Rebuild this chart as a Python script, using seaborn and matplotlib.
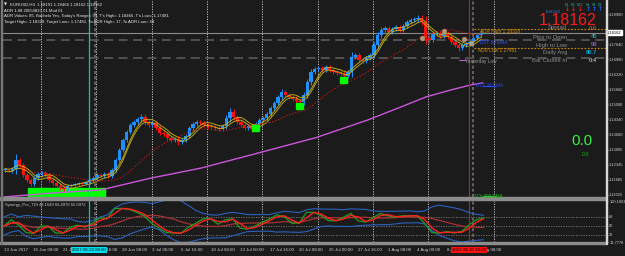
import numpy as np
import pandas as pd
import matplotlib
matplotlib.use("Agg")
import matplotlib.pyplot as plt
from matplotlib.patches import Rectangle
import seaborn as sns

sns.set_style("dark")
plt.rcParams['font.family'] = ['Liberation Sans', 'DejaVu Sans']

# ---------------- data ----------------
# EURUSD H4 closes, one value per two H4 bars (starting 13 Jun 2017 16:00)
closes = [
    1.1212, 1.1207, 1.1216, 1.1256, 1.1234, 1.1190, 1.1167, 1.1150, 1.1176, 1.1194,
    1.1198, 1.1190, 1.1167, 1.1154, 1.1141, 1.1132, 1.1128, 1.1141, 1.1146, 1.1150,
    1.1154, 1.1150, 1.1159, 1.1167, 1.1176, 1.1190, 1.1185, 1.1194, 1.1185, 1.1212,
    1.1256, 1.1300, 1.1344, 1.1379, 1.1410, 1.1423, 1.1436, 1.1445, 1.1423, 1.1410,
    1.1419, 1.1396, 1.1374, 1.1370, 1.1352, 1.1344, 1.1348, 1.1335, 1.1344, 1.1361,
    1.1396, 1.1414, 1.1423, 1.1419, 1.1410, 1.1405, 1.1401, 1.1396, 1.1392, 1.1405,
    1.1440, 1.1467, 1.1445, 1.1423, 1.1410, 1.1396, 1.1405, 1.1392, 1.1414, 1.1432,
    1.1440, 1.1458, 1.1484, 1.1506, 1.1533, 1.1555, 1.1542, 1.1533, 1.1524, 1.1516,
    1.1511, 1.1542, 1.1599, 1.1643, 1.1656, 1.1660, 1.1652, 1.1665, 1.1652, 1.1643,
    1.1638, 1.1634, 1.1625, 1.1643, 1.1709, 1.1718, 1.1696, 1.1691, 1.1704, 1.1718,
    1.1762, 1.1806, 1.1828, 1.1836, 1.1819, 1.1832, 1.1841, 1.1828, 1.1845, 1.1863,
    1.1872, 1.1876, 1.1880, 1.1863, 1.1792, 1.1784, 1.1810, 1.1814, 1.1801, 1.1814,
    1.1797, 1.1775, 1.1761, 1.1748, 1.1761, 1.1766, 1.1775, 1.1792, 1.1806, 1.1816,
]
first_open = 1.1210
# wick length in pips for each candle
wicks = [
    8, 6, 8, 24, 10, 8, 8, 10, 8, 8,
    8, 8, 8, 8, 8, 8, 12, 8, 6, 6,
    6, 6, 6, 8, 8, 10, 8, 8, 8, 10,
    10, 10, 10, 10, 10, 10, 10, 14, 12, 10,
    10, 10, 10, 10, 10, 10, 10, 14, 10, 10,
    10, 10, 8, 8, 8, 8, 8, 8, 8, 10,
    12, 16, 12, 10, 10, 10, 10, 14, 10, 10,
    10, 10, 10, 10, 10, 14, 10, 10, 10, 12,
    10, 12, 12, 12, 10, 10, 10, 10, 10, 10,
    10, 10, 16, 10, 20, 10, 10, 10, 10, 10,
    12, 12, 12, 10, 10, 10, 10, 10, 10, 10,
    10, 10, 14, 12, 26, 12, 10, 10, 10, 10,
    10, 10, 10, 14, 10, 10, 10, 10, 10, 12,
]

# slow EMA (magenta)
ema_bars = [0, 25.5, 52.6, 79.7, 106.8, 133.9, 169.1, 197.3, 215.2, 228.7, 242.3, 253.1, 259.6]
ema_vals = [1.1093, 1.1110, 1.1124, 1.1176, 1.1220, 1.1278, 1.1354, 1.1432, 1.1489,
            1.1533, 1.1564, 1.1586, 1.1595]

# TDI RSI line, one value every 4 H4 bars
tdi_green = [
    49, 62, 51, 36, 34, 49, 49, 35, 35, 47,
    51, 47, 55, 66, 64, 85, 85, 83, 77, 70,
    55, 45, 36, 35, 35, 47, 55, 64, 64, 53,
    62, 64, 45, 43, 49, 57, 64, 72, 68, 55,
    55, 77, 77, 70, 60, 60, 67, 75, 60, 57,
    66, 75, 70, 67, 70, 70, 70, 55, 36, 35,
    38, 35, 38, 51, 62, 66,
]

price_ticks = [1.18980, 1.17640, 1.16980, 1.16320, 1.15660, 1.15000, 1.14340,
               1.13680, 1.13005, 1.12345, 1.11685, 1.11025]
price_labels = ["1.18980", "1.17640", "1.16980", "1.16320", "1.15660", "1.15000", "1.14340",
                "1.13680", "1.13005", "1.12345", "1.11685", "1.11025"]
time_labels = ["13 Jun 2017", "16 Jun 08:00", "21 Jun 00:00", "23 Jun 16:00", "28 Jun 08:00",
               "3 Jul 00:00", "5 Jul 16:00", "10 Jul 08:00", "13 Jul 00:00", "17 Jul 16:00",
               "20 Jul 08:00", "25 Jul 00:00", "27 Jul 16:00", "1 Aug 08:00", "4 Aug 00:00",
               "8 Aug 16:00", "11 Aug 08:00"]
sub_ticks = [100.1063, 68, 50, 32, 16.7778]
sub_labels = ["100.1063", "68", "50", "32", "16.7778"]

last_price = 1.18162
adr_high = 1.18328
adr_low = 1.17481
level_a = 1.17836
level_b = 1.17044
yesterday_low = 1.16960
week_starts = [20, 50, 80, 110, 140, 170, 200, 230]
cyan_bar = 46
red_bar = 252
green_zone = (13, 54.7, 1.1132)
signal_boxes_bar = [136.6, 160.0, 184.0]
signal_boxes_px = [1.1396, 1.1493, 1.1607]
pivot_bars = [226.6, 238.5, 249.3, 253.0]
pivot_px = [1.17924, 1.18232, 1.17880, 1.17704]

# ---------------- figure ----------------
W, H = 625, 256
BG = "#1b1b1b"
fig = plt.figure(figsize=(W / 100, H / 100), dpi=100, facecolor=BG)

def fx(px):
    return px / W

def fy(py):
    return 1 - py / H

ax = fig.add_axes([fx(3), fy(197), (606 - 3) / W, 197 / H])
ax2 = fig.add_axes([fx(3), fy(242), (606 - 3) / W, (242 - 201) / H])
XMAX = -0.5 + 603 / 1.845
for a in (ax, ax2):
    a.set_facecolor(BG)
    a.set_xlim(-0.5, XMAX)
    for s in a.spines.values():
        s.set_visible(False)
    a.grid(False)
ax.set_ylim(1.10928, 1.19596)
ax2.set_ylim(16.78, 100.11)

# candles
c = np.array(closes)
o = np.concatenate([[first_open], c[:-1]])
w = np.array(wicks) * 0.0001
hi = np.maximum(o, c) + w
lo = np.minimum(o, c) - w
xs = np.arange(len(c)) * 2 + 0.5
up = c >= o
cols = np.where(up, "#1e90ff", "#ff1010")
ax.vlines(xs, lo, hi, colors=cols, lw=0.7, zorder=3)
body = np.maximum(np.abs(c - o), 0.0005)
ax.bar(xs, body, bottom=np.minimum(o, c), width=1.8, color=cols, lw=0, zorder=3)

df = pd.DataFrame({"x": xs, "c": c})
ma = df["c"].rolling(5, min_periods=1).mean()
df["y1"] = ma + 0.0006
df["y2"] = ma - 0.0006
df["slow"] = df["c"].rolling(20, min_periods=5).mean()
sns.lineplot(data=df, x="x", y="y1", ax=ax, color="#cdb816", lw=0.6, zorder=4)
sns.lineplot(data=df, x="x", y="y2", ax=ax, color="#cdb816", lw=0.6, zorder=4)
sns.lineplot(data=df, x="x", y="slow", ax=ax, color="#c01818", lw=0.8, ls=(0, (1.2, 1.6)), zorder=4)
sns.lineplot(x=ema_bars, y=ema_vals, ax=ax, color="#cc55dd", lw=1.0, zorder=4)

# levels
ax.axhline(last_price, color="#8a8a8a", lw=0.8, zorder=2)
ax.axhline(level_a, color="#555555", lw=1.3, ls=(0, (5, 3)), zorder=2)
ax.axhline(level_b, color="#555555", lw=1.3, ls=(0, (5, 3)), zorder=2)
ax.hlines([adr_high, adr_low], 255, XMAX, color="#d08a00", lw=0.8, ls=(0, (1.5, 1.5)), zorder=2)
ax.hlines(yesterday_low, 246.6, 250.4, color="#cc55dd", lw=0.8, zorder=5)

# verticals
for a in (ax, ax2):
    for b in week_starts:
        a.axvline(b, color="#cfcfcf", lw=0.6, ls=(0, (1.5, 1.5)), zorder=1)
    a.axvline(265.6, color="#cfcfcf", lw=0.6, ls=(0, (1.5, 1.5)), zorder=1)
    a.axvline(49.3, color="#777777", lw=1.1, ls=(0, (2, 1.5)), zorder=1)
    a.axvline(254.2, color="#777777", lw=1.1, ls=(0, (2, 1.5)), zorder=1)
    a.axvline(cyan_bar, color="#00c8c8", lw=0.9, zorder=6)
    a.axvline(red_bar, color="#c02020", lw=0.8, zorder=6)

# highlights
ax.add_patch(Rectangle((green_zone[0], 1.10928), green_zone[1] - green_zone[0],
                       green_zone[2] - 1.10928, color="#00ff00", zorder=2))
for b, p in zip(signal_boxes_bar, signal_boxes_px):
    ax.add_patch(Rectangle((b - 1.9, p - 0.0013), 3.8, 0.0026, color="#00ff00", zorder=5))
ax.scatter(pivot_bars, pivot_px, s=11, color="#b0b0b0", edgecolor="#d08a40", lw=0.5,
           alpha=0.85, zorder=7)

# price axis
ax.yaxis.tick_right()
ax.set_yticks(price_ticks, price_labels)
ax.tick_params(axis="y", colors="#d0d0d0", labelsize=2.9, length=1.5, width=0.5, pad=0.8)
ax.set_xticks([])
ax.text(1.0015, last_price, "1.18162", transform=ax.get_yaxis_transform(), fontsize=2.9,
        color="black", va="center", ha="left",
        bbox=dict(fc="white", ec="white", pad=0.5), clip_on=False, zorder=10)

# ---------------- TDI panel ----------------
g = pd.Series(tdi_green, dtype=float)
tdi = pd.DataFrame({"x": np.arange(len(g)) * 4.0, "g": g})
tdi["r"] = g.rolling(2, min_periods=1).mean()
tdi["m"] = g.rolling(9, min_periods=1).mean()
sd = g.rolling(9, min_periods=2).std().bfill()
tdi["u"] = tdi["m"] + 2.0 * sd
tdi["l"] = tdi["m"] - 2.0 * sd
for lvl in (68, 50, 32):
    ax2.axhline(lvl, color="#7a7a7a", lw=0.6, ls=(0, (1.5, 1.5)), zorder=1)
sns.lineplot(data=tdi, x="x", y="u", ax=ax2, color="#2a62c0", lw=0.8, zorder=3)
sns.lineplot(data=tdi, x="x", y="l", ax=ax2, color="#2a62c0", lw=0.8, zorder=3)
sns.lineplot(data=tdi, x="x", y="m", ax=ax2, color="#a83030", lw=0.9, zorder=3)
sns.lineplot(data=tdi, x="x", y="g", ax=ax2, color="#1e9e1e", lw=0.9, zorder=4)
sns.lineplot(data=tdi, x="x", y="r", ax=ax2, color="#ff2020", lw=1.0, zorder=5)
ax2.set_xlabel("")
ax2.set_ylabel("")
ax.set_xlabel("")
ax.set_ylabel("")
ax2.yaxis.tick_right()
ax2.set_yticks(sub_ticks, sub_labels)
ax2.tick_params(axis="y", colors="#d0d0d0", labelsize=2.8, length=1.5, width=0.5, pad=0.8)
ax2.set_xticks(np.arange(len(time_labels)) * 16, time_labels)
ax2.tick_params(axis="x", colors="#d0d0d0", labelsize=3.2, length=2, width=0.5, pad=2.5)
for t in ax2.get_xticklabels():
    t.set_ha("left")
ax2.text(0.003, 0.9, "Synergy_Pro_TDI 43.1649 66.4976 55.0972", transform=ax2.transAxes,
         fontsize=3.0, color="#c8c8c8", va="center", ha="left")
ax2.text(cyan_bar, -0.2, "2017.06.23 08:00", transform=ax2.get_xaxis_transform(), fontsize=3.2,
         color="black", ha="center", va="center", bbox=dict(fc="#00e0f0", ec="none", pad=0.6),
         clip_on=False, zorder=10)
ax2.text(red_bar, -0.2, "2017.08.10 16:00", transform=ax2.get_xaxis_transform(), fontsize=3.2,
         color="black", ha="center", va="center", bbox=dict(fc="#ff1010", ec="none", pad=0.6),
         clip_on=False, zorder=10)

# frame bands
fig.add_artist(Rectangle((0, fy(199.5)), fx(606), 2.5 / H, color="#8c8c8c", transform=fig.transFigure))
fig.add_artist(Rectangle((0, fy(243.5)), fx(606), 1.5 / H, color="#8c8c8c", transform=fig.transFigure))
fig.add_artist(Rectangle((fx(605.5), fy(243.5)), 1.2 / W, 243.5 / H, color="#d8d8d8", transform=fig.transFigure))
fig.add_artist(Rectangle((fx(1), fy(243.5)), 1.0 / W, 243.5 / H, color="#777777", transform=fig.transFigure))

# ---------------- texts ----------------
tl = dict(fontsize=3.1, color="#e8e8e8", ha="left", va="center")
fig.text(fx(4), fy(5), "\u25bc", fontsize=2.8, color="#e8e8e8", ha="left", va="center",
         family="DejaVu Sans")
fig.text(fx(10), fy(5), "EURUSD,H4  1.18191 1.18466 1.18162 1.18162", **tl)
fig.text(fx(4), fy(10.5), "ADR 1.08 20050827 01 Mod 01", **tl)
fig.text(fx(4), fy(16), "ADR Values: 85, Bachelo Yes, Today's Range= 99, T's High= 1.18466, T's Low= 1.17481", **tl)
fig.text(fx(4), fy(21.5), "Target High= 1.18328, Target Low= 1.17481, To ADR High= 17, To ADR Low= 68", **tl)

fig.text(fx(568), fy(20.5), "1.18162", fontsize=11.5, color="#ff1a1a", ha="center", va="center")
fig.text(fx(553), fy(12), "EURUSD", fontsize=2.6, color="#3a7bd5", ha="center", va="center")
for xp, lab, arr, col in [(567, "M1", "\u2193", "#ff2020"), (573, "M5", "\u2193", "#ff2020"),
                          (580, "M15", "\u2193", "#ff2020"), (588, "H1", "\u2191", "#2060ff"),
                          (594, "H4", "\u2191", "#2060ff"), (600, "D1", "\u2191", "#2060ff")]:
    fig.text(fx(xp), fy(5), lab, fontsize=2.4, color="#30b0a0", ha="center", va="center")
    fig.text(fx(xp), fy(9.5), arr, fontsize=4.2, color=col, ha="center", va="center",
             fontweight="bold", family="DejaVu Sans")

for yp, lab, val, col in [(28, "Spread", "0.6", "#d0703a"), (37, "Pips to Open", "45", "#30c8c8"),
                          (45, "High to Low", "99", "#b070ff"), (52.5, "Daily Avg", "80.7", "#00d8ff"),
                          (60, "Bar Closes In", "0:4", "#e0e0e0")]:
    fig.text(fx(567), fy(yp), lab, fontsize=4.2, color="#8c8c8c", ha="right", va="center")
    fig.text(fx(597), fy(yp), val, fontsize=4.2, color=col, ha="right", va="center")

fig.text(fx(582), fy(141), "0.0", fontsize=11, color="#40f040", ha="center", va="center")
fig.text(fx(586), fy(155), "0.0", fontsize=3.8, color="#20b020", ha="center", va="center")

fig.text(fx(480), fy(31), "ADR High 1.18328", fontsize=3.4, color="#d89000", ha="left", va="center")
fig.text(fx(478), fy(51), "ADR Low 1.17481", fontsize=3.4, color="#d89000", ha="left", va="center")
fig.text(fx(480), fy(43), "D1Y 50 EMA", fontsize=3.4, color="#3355ff", ha="left", va="center")
fig.text(fx(465), fy(62), "Yesterday Low", fontsize=3.4, color="#9a9a9a", ha="left", va="center")
fig.text(fx(476), fy(85.5), "D1Y 34 EMA", fontsize=3.4, color="#2a44ee", ha="left", va="center")
fig.text(fx(473), fy(196.5), "D1Y 200 EMA", fontsize=3.4, color="#20c020", ha="left", va="center")
ax.hlines(1.15796, 259, 266.5, color="#2a44ee", lw=0.9, zorder=6)
ax.hlines(1.1098, 259, 266.5, color="#20c020", lw=0.9, zorder=6)

fig.savefig("out.png", dpi=100, facecolor=BG)
